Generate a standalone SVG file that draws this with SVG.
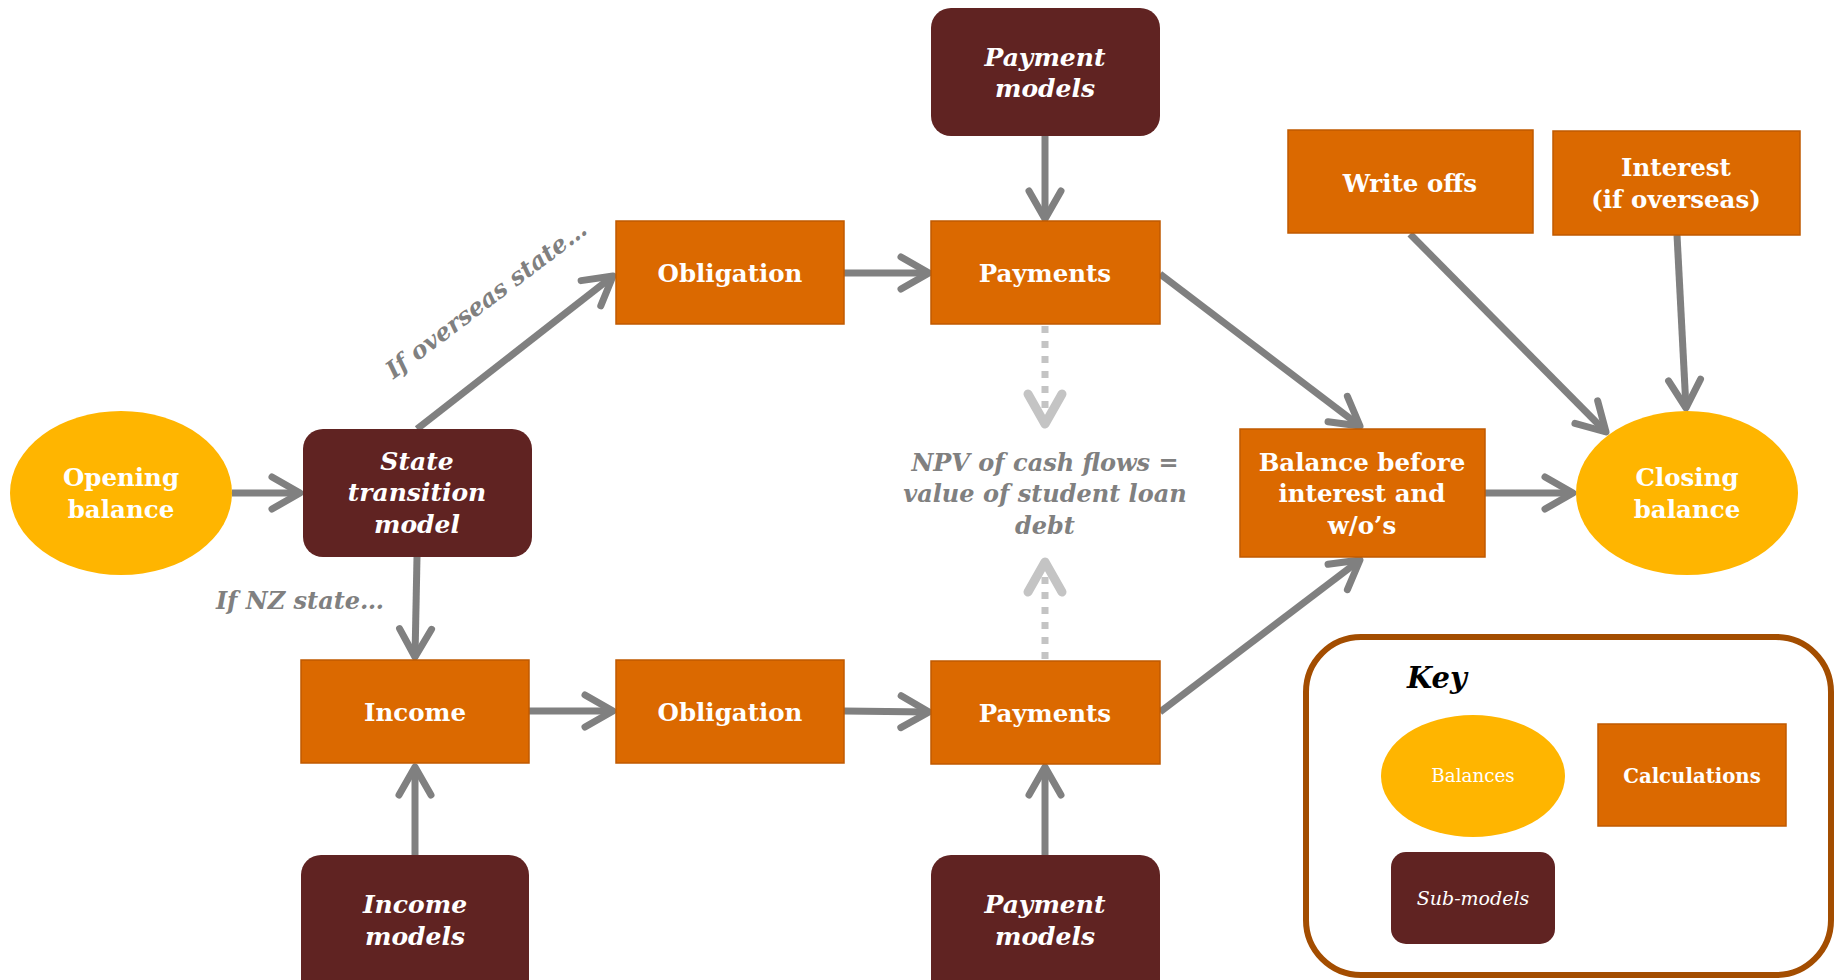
<svg xmlns="http://www.w3.org/2000/svg" width="1841" height="980" viewBox="0 0 1841 980">
<style>
.calc{fill:#DB6900;stroke:#C05A00;stroke-width:1.5}
.sub{fill:#602322}
.bal{fill:#FFB500}
.t{font-family:"DejaVu Serif","Liberation Serif",serif;font-weight:bold;font-size:24.5px;fill:#FFFFFF;text-anchor:middle}
.ti{font-family:"DejaVu Serif","Liberation Serif",serif;font-weight:bold;font-style:italic;font-size:25px;fill:#FFFFFF;text-anchor:middle}
.lbl{font-family:"DejaVu Serif","Liberation Serif",serif;font-weight:bold;font-style:italic;font-size:24px;fill:#808080;text-anchor:middle}
.c{fill:none;stroke:#808080;stroke-width:7;marker-end:url(#arr)}
.d{fill:none;stroke:#C4C4C4;stroke-width:7;stroke-dasharray:7 8;marker-end:url(#arrl)}
</style>
<defs>
<marker id="arr" markerUnits="userSpaceOnUse" markerWidth="44" markerHeight="44" viewBox="-38 -22 44 44" refX="0" refY="0" orient="auto">
<path d="M-28,-16 L0,0 L-28,16" fill="none" stroke="#808080" stroke-width="7" stroke-linecap="round" stroke-linejoin="round"/>
</marker>
<marker id="arrl" markerUnits="userSpaceOnUse" markerWidth="48" markerHeight="52" viewBox="-40 -26 48 52" refX="0" refY="0" orient="auto">
<path d="M-30,-17 L0,0 L-30,17" fill="none" stroke="#C4C4C4" stroke-width="9" stroke-linecap="round" stroke-linejoin="round"/>
</marker>
</defs>

<g id="connectors">
<line class="c" x1="232" y1="493" x2="300" y2="493"/>
<line class="c" x1="417" y1="429" x2="613" y2="276"/>
<line class="c" x1="417" y1="557" x2="415" y2="657"/>
<line class="c" x1="844" y1="273" x2="929" y2="273"/>
<line class="c" x1="1045" y1="136" x2="1045" y2="219"/>
<line class="c" x1="1160" y1="274" x2="1360" y2="426"/>
<line class="c" x1="1160" y1="712" x2="1360" y2="560"/>
<line class="c" x1="528" y1="711" x2="613" y2="711"/>
<line class="c" x1="844" y1="711" x2="929" y2="712"/>
<line class="c" x1="415" y1="855" x2="415" y2="767"/>
<line class="c" x1="1045" y1="855" x2="1045" y2="767"/>
<line class="c" x1="1485" y1="493" x2="1573" y2="493"/>
<line class="c" x1="1410" y1="234" x2="1606" y2="432"/>
<line class="c" x1="1677" y1="235" x2="1686" y2="408"/>
<line class="d" x1="1045" y1="326" x2="1045" y2="424"/>
<line class="d" x1="1045" y1="659" x2="1045" y2="562"/>
</g>

<g id="label-overseas"><text class="lbl" transform="translate(491,306) rotate(-37)">If overseas state…</text></g>
<g id="label-nz"><text class="lbl" x="300" y="609">If NZ state…</text></g>
<g id="label-npv">
<text class="lbl" x="1045" y="471">NPV of cash flows =</text>
<text class="lbl" x="1045" y="502">value of student loan</text>
<text class="lbl" x="1045" y="534">debt</text>
</g>

<g id="opening-balance">
<ellipse class="bal" cx="121" cy="493" rx="111" ry="82"/>
<text class="t" x="121" y="486">Opening</text>
<text class="t" x="121" y="518">balance</text>
</g>

<g id="state-transition">
<rect class="sub" x="303" y="429" width="229" height="128" rx="20"/>
<text class="ti" x="417" y="470">State</text>
<text class="ti" x="417" y="501">transition</text>
<text class="ti" x="417" y="533">model</text>
</g>

<g id="obligation-top">
<rect class="calc" x="616" y="221" width="228" height="103"/>
<text class="t" x="730" y="282">Obligation</text>
</g>

<g id="payments-top">
<rect class="calc" x="931" y="221" width="229" height="103"/>
<text class="t" x="1045" y="282">Payments</text>
</g>

<g id="payment-models-top">
<rect class="sub" x="931" y="8" width="229" height="128" rx="20"/>
<text class="ti" x="1045" y="66">Payment</text>
<text class="ti" x="1045" y="97">models</text>
</g>

<g id="write-offs">
<rect class="calc" x="1288" y="130" width="245" height="103"/>
<text class="t" x="1410" y="192">Write offs</text>
</g>

<g id="interest">
<rect class="calc" x="1553" y="131" width="247" height="104"/>
<text class="t" x="1676" y="176">Interest</text>
<text class="t" x="1676" y="208">(if overseas)</text>
</g>

<g id="balance-before">
<rect class="calc" x="1240" y="429" width="245" height="128"/>
<text class="t" x="1362" y="471">Balance before</text>
<text class="t" x="1362" y="502">interest and</text>
<text class="t" x="1362" y="534">w/o’s</text>
</g>

<g id="closing-balance">
<ellipse class="bal" cx="1687" cy="493" rx="111" ry="82"/>
<text class="t" x="1687" y="486">Closing</text>
<text class="t" x="1687" y="518">balance</text>
</g>

<g id="income">
<rect class="calc" x="301" y="660" width="228" height="103"/>
<text class="t" x="415" y="721">Income</text>
</g>

<g id="obligation-bottom">
<rect class="calc" x="616" y="660" width="228" height="103"/>
<text class="t" x="730" y="721">Obligation</text>
</g>

<g id="payments-bottom">
<rect class="calc" x="931" y="661" width="229" height="103"/>
<text class="t" x="1045" y="722">Payments</text>
</g>

<g id="income-models">
<rect class="sub" x="301" y="855" width="228" height="150" rx="20"/>
<text class="ti" x="415" y="913">Income</text>
<text class="ti" x="415" y="945">models</text>
</g>

<g id="payment-models-bottom">
<rect class="sub" x="931" y="855" width="229" height="150" rx="20"/>
<text class="ti" x="1045" y="913">Payment</text>
<text class="ti" x="1045" y="945">models</text>
</g>

<g id="key">
<rect x="1306" y="637" width="525" height="338" rx="55" fill="none" stroke="#A34D00" stroke-width="6"/>
<text x="1407" y="688" font-family="DejaVu Serif, Liberation Serif, serif" font-weight="bold" font-style="italic" font-size="29" fill="#000000">Key</text>
<ellipse class="bal" cx="1473" cy="776" rx="92" ry="61"/>
<text x="1473" y="782" font-family="DejaVu Serif, Liberation Serif, serif" font-size="18.3" fill="#FFFFFF" text-anchor="middle">Balances</text>
<rect class="calc" x="1598" y="724" width="188" height="102"/>
<text x="1692" y="783" font-family="DejaVu Serif, Liberation Serif, serif" font-weight="bold" font-size="19.7" fill="#FFFFFF" text-anchor="middle">Calculations</text>
<rect class="sub" x="1391" y="852" width="164" height="92" rx="15"/>
<text x="1473" y="905" font-family="DejaVu Serif, Liberation Serif, serif" font-style="italic" font-size="19" fill="#FFFFFF" text-anchor="middle">Sub-models</text>
</g>
</svg>
